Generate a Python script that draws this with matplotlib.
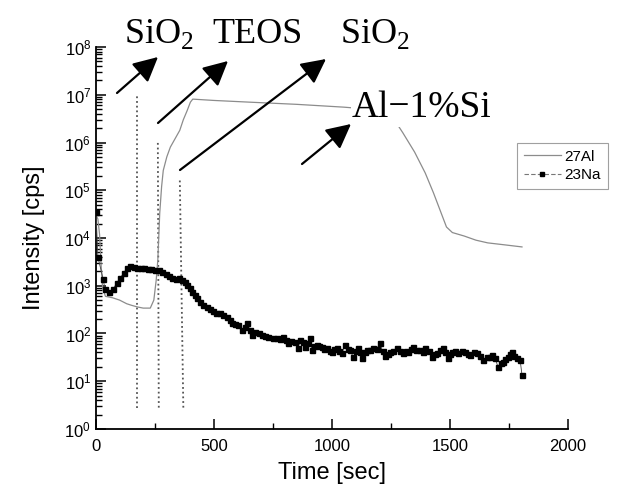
import numpy as np
import matplotlib
matplotlib.use("Agg")
import matplotlib.pyplot as plt
from matplotlib.lines import Line2D
from matplotlib.patches import FancyArrowPatch
from matplotlib.ticker import LogLocator, FixedLocator, NullFormatter

# フォント設定
plt.rcParams['font.family'] = ['Liberation Sans', 'DejaVu Sans']
plt.rcParams['mathtext.fontset'] = 'custom'
plt.rcParams['mathtext.rm'] = 'Liberation Serif'

# 27Al (gray line)
al_t = [0, 8, 15, 22, 28, 40, 70, 100, 130, 150, 175, 200, 230, 245, 255,
        262, 270, 278, 285, 300, 315, 335, 355, 370, 385, 400, 410, 500, 650,
        850, 1050, 1200, 1270, 1300, 1350, 1395, 1430, 1485, 1510, 1560, 1610,
        1660, 1730, 1805]
al_v = [3e4, 2.5e4, 1.2e4, 2500, 900, 600, 560, 500, 420, 390, 360, 340, 340,
        500, 1300, 3500, 3.3e4, 1.2e5, 2.6e5, 5e5, 8e5, 1.2e6, 1.8e6, 3e6,
        4.5e6, 7e6, 8.1e6, 7.6e6, 7e6, 6.3e6, 5.5e6, 4.8e6, 2.7e6, 1.6e6,
        6.3e5, 2.3e5, 8.8e4, 1.7e4, 1.3e4, 1.1e4, 9e3, 7.9e3, 7.2e3, 6.5e3]

# 23Na (square markers)
na_t = [0, 8, 30, 38, 55, 72, 89, 102, 118, 131, 145, 160, 175, 190, 205,
        220, 235, 250, 265, 280, 295, 310, 322, 337, 352, 364, 376, 386, 397,
        407, 418, 428, 441, 455, 470, 483, 496, 510, 525, 540, 555, 566, 576,
        590, 603, 618, 630, 640, 651, 661, 674, 689, 703, 716, 729, 748, 767,
        780, 793, 803, 813, 828, 843, 856, 866, 877, 886, 897, 907, 915, 925,
        936, 947, 957, 968, 978, 990, 1000, 1010, 1020, 1031, 1042, 1055,
        1066, 1076, 1090, 1100, 1110, 1120, 1127, 1138, 1148, 1161, 1175,
        1190, 1203, 1214, 1225, 1236, 1246, 1260, 1275, 1290, 1302, 1312,
        1322, 1333, 1343, 1358, 1373, 1384, 1394, 1410, 1424, 1435, 1445,
        1458, 1470, 1480, 1491, 1500, 1508, 1520, 1534, 1549, 1564, 1575,
        1585, 1600, 1614, 1627, 1640, 1655, 1670, 1680, 1691, 1703, 1714,
        1725, 1735, 1745, 1755, 1762, 1773, 1784, 1797, 1805]
na_v = [35000, 4000, 1400, 850, 740, 850, 1150, 1450, 1850, 2350, 2600, 2500,
        2400, 2350, 2300, 2250, 2200, 2150, 2100, 1950, 1800, 1600, 1450,
        1400, 1450, 1300, 1200, 1050, 900, 740, 640, 550, 460, 400, 360, 320,
        290, 275, 265, 240, 220, 190, 165, 160, 150, 118, 140, 165, 120, 93,
        107, 100, 93, 90, 85, 82, 80, 78, 85, 72, 63, 68, 66, 50, 73, 66, 52,
        62, 80, 45, 55, 57, 55, 52, 48, 50, 44, 41, 47, 50, 44, 39, 57, 48,
        45, 32, 42, 50, 40, 31, 40, 45, 45, 50, 48, 63, 42, 33, 38, 41, 44,
        50, 42, 39, 44, 41, 47, 52, 46, 45, 40, 50, 42, 32, 37, 39, 45, 50,
        40, 31, 38, 41, 44, 39, 42, 41, 38, 36, 40, 39, 33, 28, 32, 32, 35,
        31, 20, 24, 25, 29, 32, 38, 41, 33, 31, 28, 13.5]

# 縦の点線 (x下, x上, y下, y上)
vline_x = [(175, 175), (266, 262), (370, 355)]
vline_y = [(2.8, 1e7), (2.8, 1.07e6), (2.8, 1.8e5)]

fig = plt.figure(figsize=(6.17, 4.98), dpi=100)
ax = fig.add_axes([0.1556, 0.1386, 0.765, 0.767])

ax.plot(al_t, al_v, color='#8c8c8c', lw=0.9, zorder=2)
ax.plot(na_t, na_v, color='#444444', lw=0.6, marker='s', ms=3.6,
        mfc='black', mec='black', zorder=3)

for xs, ys in zip(vline_x, vline_y):
    ax.plot([xs[0], xs[1]], [ys[0], ys[1]], color='#555555', lw=1.3,
            linestyle=(0, (1, 1.6)), zorder=1)

ax.set_yscale('log')
ax.set_xlim(0, 2000)
ax.set_ylim(1, 1e8)
ax.yaxis.set_major_locator(LogLocator(base=10, numticks=100))
ax.yaxis.set_minor_locator(LogLocator(base=10, subs=np.arange(2, 10) * 1.0,
                                      numticks=100))
ax.yaxis.set_minor_formatter(NullFormatter())
ax.xaxis.set_major_locator(FixedLocator([0, 500, 1000, 1500, 2000]))
ax.xaxis.set_minor_locator(FixedLocator([250, 750, 1250, 1750]))

ax.spines['top'].set_visible(False)
ax.spines['right'].set_visible(False)
ax.spines['left'].set_linewidth(1.3)
ax.spines['bottom'].set_linewidth(1.3)
ax.tick_params(which='major', direction='in', length=7, width=1.1,
               labelsize=12, colors='black')
ax.tick_params(which='minor', direction='in', length=4.5, width=1.0)
ax.tick_params(axis='x', pad=7)

ax.set_xlabel('Time [sec]', fontsize=17, labelpad=6)
ax.set_ylabel('Intensity [cps]', fontsize=17, labelpad=14)

# 凡例
h_al = Line2D([], [], color='#8c8c8c', lw=0.9)
h_na = Line2D([], [], color='#777777', lw=0.8, linestyle=(0, (4, 2)),
              marker='s', ms=3, mfc='black', mec='black')
leg = ax.legend([h_al, h_na], ['27Al', '23Na'], loc='upper left',
                bbox_to_anchor=(0.892, 0.749), fontsize=11, frameon=True,
                fancybox=False, handlelength=2.4, handletextpad=0.25,
                borderpad=0.45, labelspacing=0.3, borderaxespad=0)
leg.get_frame().set_edgecolor('#888888')
leg.get_frame().set_linewidth(0.8)

# 上部の注記
serif = ['Liberation Serif', 'DejaVu Serif']
fig.text(124 / 617, 1 - 43 / 498, 'SiO$_2$', fontsize=26, family=serif,
         va='baseline', ha='left')
fig.text(212 / 617, 1 - 43 / 498, 'TEOS', fontsize=26, family=serif,
         va='baseline', ha='left')
fig.text(340 / 617, 1 - 43 / 498, 'SiO$_2$', fontsize=26, family=serif,
         va='baseline', ha='left')
fig.text(352 / 617, 1 - 117 / 498, 'Al\u22121%Si', fontsize=27, family=serif,
         va='baseline', ha='left', zorder=5,
         bbox=dict(facecolor='white', edgecolor='none', pad=1))

# 矢印 (tail, tip) in figure pixels
arrows = [((117, 93), (158, 57)), ((158, 123), (228, 61)),
          ((180, 170), (326, 59)), ((302, 164), (351, 124))]
for (x0, y0), (x1, y1) in arrows:
    fig.add_artist(FancyArrowPatch(
        (x0 / 617, 1 - y0 / 498), (x1 / 617, 1 - y1 / 498),
        transform=fig.transFigure,
        arrowstyle='-|>,head_length=0.75,head_width=0.38',
        mutation_scale=20, lw=1.6, color='black', shrinkA=0, shrinkB=0))

fig.savefig('out.png', dpi=100)
